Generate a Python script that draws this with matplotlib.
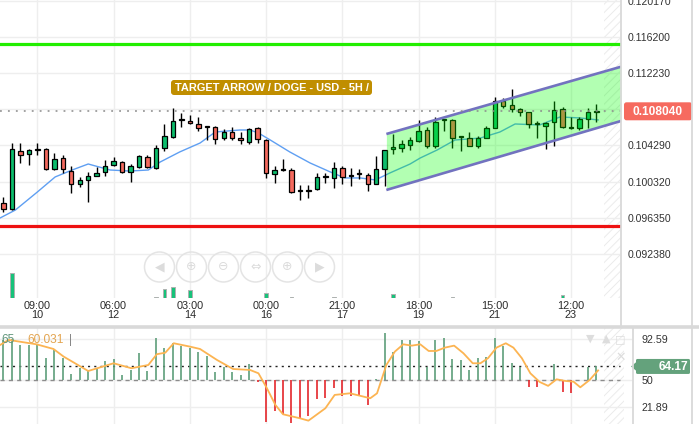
import matplotlib
matplotlib.use("Agg")
import matplotlib.pyplot as plt
from matplotlib.patches import FancyBboxPatch, Circle, Polygon
from matplotlib.lines import Line2D
from matplotlib.transforms import IdentityTransform

# ---- data ----
opens = [0.09798, 0.09732, 0.10369, 0.10336, 0.10380, 0.10390, 0.10171, 0.10292, 0.10149, 0.10007,
         0.10051, 0.10095, 0.10138, 0.10215, 0.10248, 0.10138, 0.10193, 0.10303, 0.10182, 0.10401,
         0.10522, 0.10709, 0.10698, 0.10665, 0.10632, 0.10632, 0.10511, 0.10577, 0.10511, 0.10467,
         0.10621, 0.10489, 0.10117, 0.10160, 0.10160, 0.09930, 0.09935, 0.09952, 0.10084, 0.10073,
         0.10182, 0.10095, 0.10117, 0.10106, 0.10007, 0.10171, 0.10390, 0.10401, 0.10434, 0.10478,
         0.10599, 0.10423, 0.10709, 0.10709, 0.10522, 0.10511, 0.10423, 0.10511, 0.10621, 0.10917,
         0.10873, 0.10829, 0.10796, 0.10665, 0.10643, 0.10687, 0.10829, 0.10621, 0.10621, 0.10720,
         0.10800]
highs = [0.09864, 0.10456, 0.10456, 0.10390, 0.10456, 0.10401, 0.10347, 0.10325, 0.10204, 0.10084,
         0.10138, 0.10193, 0.10270, 0.10303, 0.10259, 0.10226, 0.10325, 0.10325, 0.10434, 0.10665,
         0.10840, 0.10785, 0.10763, 0.10742, 0.10640, 0.10640, 0.10610, 0.10632, 0.10577, 0.10621,
         0.10630, 0.10495, 0.10204, 0.10281, 0.10182, 0.09996, 0.09996, 0.10127, 0.10127, 0.10248,
         0.10204, 0.10182, 0.10171, 0.10127, 0.10314, 0.10380, 0.10555, 0.10489, 0.10522, 0.10709,
         0.10632, 0.10742, 0.10720, 0.10720, 0.10533, 0.10577, 0.10533, 0.10643, 0.10961, 0.10950,
         0.11049, 0.10840, 0.10800, 0.10698, 0.10687, 0.10917, 0.10851, 0.10742, 0.10742, 0.10840,
         0.10884]
lows = [0.09699, 0.09721, 0.10237, 0.10215, 0.10325, 0.10160, 0.10160, 0.10127, 0.09908, 0.09974,
        0.09809, 0.10095, 0.10095, 0.10204, 0.10127, 0.10029, 0.10182, 0.10182, 0.10171, 0.10369,
        0.10511, 0.10632, 0.10665, 0.10588, 0.10489, 0.10445, 0.10489, 0.10489, 0.10445, 0.10445,
        0.10456, 0.10073, 0.10018, 0.10149, 0.09908, 0.09831, 0.09853, 0.09941, 0.10018, 0.09963,
        0.10007, 0.09985, 0.10062, 0.09930, 0.10007, 0.09985, 0.10336, 0.10358, 0.10380, 0.10467,
        0.10401, 0.10401, 0.10588, 0.10401, 0.10369, 0.10423, 0.10401, 0.10511, 0.10621, 0.10840,
        0.10796, 0.10752, 0.10621, 0.10511, 0.10390, 0.10423, 0.10621, 0.10610, 0.10599, 0.10621,
        0.10687]
closes = [0.09732, 0.10390, 0.10325, 0.10380, 0.10390, 0.10171, 0.10281, 0.10171, 0.10007, 0.10051,
          0.10095, 0.10127, 0.10204, 0.10259, 0.10138, 0.10204, 0.10314, 0.10193, 0.10401, 0.10533,
          0.10698, 0.10714, 0.10676, 0.10621, 0.10627, 0.10500, 0.10577, 0.10511, 0.10489, 0.10610,
          0.10500, 0.10127, 0.10160, 0.10165, 0.09919, 0.09935, 0.09930, 0.10084, 0.10089, 0.10182,
          0.10084, 0.10100, 0.10112, 0.10007, 0.10171, 0.10380, 0.10412, 0.10445, 0.10489, 0.10588,
          0.10423, 0.10687, 0.10704, 0.10511, 0.10517, 0.10423, 0.10511, 0.10621, 0.10917, 0.10862,
          0.10829, 0.10796, 0.10665, 0.10660, 0.10676, 0.10818, 0.10632, 0.10616, 0.10720, 0.10796,
          0.10804]
volume = [0, 25, 0, 0, 0, 0, 0, 0, 0, 0, 0, 0, 0, 0, 0, 0, 0, 0, 1, 9,
          11, 0, 8, 0, 0, 0, 0, 0, 0, 0, 0, 5, 0, 0, 1, 0, 0, 0, 0, 1,
          0, 0, 0, 0, 0, 0, 4, 0, 0.5, 0, 0, 0, 0, 1.5, 0, 0, 0, 0, 0, 0,
          0, 0, 0, 0, 0.5, 0, 3, 0, 0, 0, 0]

# moving average over price (read at points)
ma_idx = [-0.4, 1.4, 4.0, 6.1, 8.1, 10.0, 12.6, 14.9, 17.1, 18.5, 20.8, 23.2, 25.0, 27.9, 29.1,
          30.1, 31.5, 33.8, 36.2, 38.6, 40.3, 42.1, 43.9, 45.6, 48.0, 49.2, 51.2, 53.3, 56.3,
          58.6, 60.4, 63.3, 65.7, 68.1, 70.2]
ma_val = [0.09634, 0.09721, 0.09919, 0.10084, 0.10160, 0.10226, 0.10160, 0.10149, 0.10160, 0.10248,
          0.10358, 0.10456, 0.10577, 0.10599, 0.10599, 0.10566, 0.10489, 0.10358, 0.10237, 0.10138,
          0.10073, 0.10073, 0.10051, 0.10127, 0.10226, 0.10292, 0.10380, 0.10489, 0.10511, 0.10577,
          0.10665, 0.10654, 0.10742, 0.10731, 0.10709]

chan_idx = [45.2, 72.9]
chan_upper = [0.10555, 0.11293]
chan_lower = [0.09941, 0.10698]

resistance = 0.11540
support = 0.09549
last_price = 0.108040

price_ticks = [0.092380, 0.096350, 0.100320, 0.104290, 0.108260, 0.112230, 0.116200, 0.120170]
time_pos = [4, 13, 22, 31, 40, 49, 58, 67]
time_labels = ["09:00\n10", "06:00\n12", "03:00\n14", "00:00\n16",
               "21:00\n17", "18:00\n19", "15:00\n21", "12:00\n23"]

# oscillator panel
osc = [92, 93, 87, 87, 86.7, 72.8, 81.5, 72.8, 56, 62.3, 60.5, 62.3, 70, 72, 55.2, 60.5, 78, 59.4,
       94.4, 84, 88.5, 86, 83.2, 79.7, 75.5, 58, 64, 58, 55, 66.5, 47.5, 6.3, 17.5, 14, 4.5, 9.8,
       12.6, 30, 30.8, 42, 33.5, 33.5, 33.5, 23.8, 50.5, 99, 79.7, 92, 92, 91, 64, 92, 94.4, 72, 71,
       60.5, 73.4, 74.4, 94.4, 86, 67.5, 64, 43, 43, 49.5, 66.5, 37.8, 36, 50, 64, 64.17]
osc_ma_idx = [-0.4, 0.6, 3.9, 5.9, 7.1, 10.0, 13.0, 15.1, 17.1, 18.1, 19.1, 20.1, 22.0, 23.2, 25.2,
              27.1, 29.1, 30.1, 31.1, 32.1, 33.0, 35.0, 36.0, 38.0, 39.1, 40.9, 43.3, 44.1, 45.2,
              46.2, 47.2, 48.2, 49.2, 50.2, 51.1, 52.1, 53.2, 54.3, 55.4, 56.3, 57.2, 58.2, 59.3,
              60.2, 61.2, 62.2, 63.3, 64.3, 65.3, 66.3, 67.3, 68.1, 69.2, 70.2]
osc_ma_val = [86.7, 92, 87.4, 82.5, 74.5, 59.4, 67.5, 62.3, 65.7, 77, 78.6, 88.5, 85, 82.5, 71,
              61.5, 60.5, 57, 41.3, 23.8, 14, 9.8, 7.3, 20.3, 34.3, 36, 30.8, 36, 65.7,
              79.7, 87.4, 86, 87.4, 80.4, 80.4, 83.9, 86, 78, 67.5, 67.5, 72.8, 83.9, 88.5,
              83.9, 72.8, 57, 47.9, 43.8, 50.7, 49, 48.2, 42.3, 50, 60.0]
osc_ticks = [21.89, 50, 92.59]

# ---- layout ----
W, H = 699, 424
plt.rcParams['font.family'] = ['Liberation Sans', 'DejaVu Sans']
plt.rcParams['hatch.linewidth'] = 0.7
fig = plt.figure(figsize=(W / 100, H / 100), dpi=100)
PX = IdentityTransform()


def rect(x0, y0, x1, y1):
    return [x0 / W, 1 - y1 / H, (x1 - x0) / W, (y1 - y0) / H]


GREEN = '#0cbd6c'
RED = '#f46a5e'
GRID = '#eeeeee'
HATCH = '#ebebeb'
n = len(closes)
xs = list(range(n))

ax = fig.add_axes(rect(0, 0, 621, 298))
# volume sits at the bottom of the price pane (twin created first: twinx resets tick side)
axv = ax.twinx()
ax.set_xlim(-0.413, 72.9)
ax.set_ylim(0.08756, 0.12025)
for s in ax.spines.values():
    s.set_visible(False)
ax.set_yticks(price_ticks)
ax.set_yticklabels(["" if abs(t - 0.10826) < 1e-6 else "%.6f" % t for t in price_ticks])
ax.yaxis.tick_right()
ax.yaxis.set_label_position('right')
ax.tick_params(axis='y', length=0, pad=5, labelsize=7.6, labelcolor='#333333',
               labelleft=False, labelright=True)
ax.set_xticks(time_pos)
ax.set_xticklabels(time_labels, linespacing=0.95)
ax.tick_params(axis='x', length=0, pad=2, labelsize=7.8, labelcolor='#2a2a2a')
ax.grid(True, color=GRID, lw=1)
ax.set_axisbelow(True)

# future area hatch
ax.axvspan(70.9, 72.9, facecolor='none', edgecolor=HATCH, hatch='////', lw=0, zorder=0.5)

ax.axhline(resistance, color='#22ee00', lw=2.3, zorder=3)
ax.axhline(support, color='#ee1111', lw=2.3, zorder=3)

ax.plot(ma_idx, ma_val, color='#5f9ff2', lw=1, zorder=2)

# candles
for i in xs:
    o, h, l, c = opens[i], highs[i], lows[i], closes[i]
    col = GREEN if c >= o else RED
    ax.vlines(i, l, h, color='black', lw=1, zorder=3)
    body = max(abs(c - o), 0.00012)
    ax.bar(i, body, bottom=min(o, c), width=0.52, color=col, edgecolor='black', lw=0.9, zorder=4)

# trend channel (drawn over candles, translucent)
ax.fill_between(chan_idx, chan_lower, chan_upper, color='#00ff00', alpha=0.3, lw=0, zorder=5)
ax.plot(chan_idx, chan_upper, color='#7272bf', lw=1.9, zorder=6, solid_capstyle='butt')
ax.plot(chan_idx, chan_lower, color='#7272bf', lw=1.9, zorder=6, solid_capstyle='butt')

ax.axhline(last_price, color='#8a8a8a', lw=1.1, ls=(0, (1.2, 4)), zorder=6)

axv.set_ylim(0, 298)
axv.set_yticks([])
for s in axv.spines.values():
    s.set_visible(False)
axv.bar(xs, volume, width=0.45, color='#17c27a', edgecolor='#b0b0b0', lw=0.7)

# title badge
fig.patches.append(FancyBboxPatch((171, H - 95), 201, 15, boxstyle="round,pad=0,rounding_size=3",
                                  transform=PX, facecolor='#c08e00', edgecolor='none', figure=fig))
fig.text(271.5, H - 87.8, "TARGET ARROW / DOGE - USD - 5H /", transform=PX, ha='center',
         va='center', color='white', fontsize=7.9, fontweight='bold')

# navigation buttons
for k, g in enumerate(['◀', '⊕', '⊖', '⇔', '⊕', '▶']):
    cx = 159.5 + k * 32
    fig.patches.append(Circle((cx, H - 267), 15, transform=PX, facecolor='none',
                              edgecolor='#e4e4e4', lw=1.1, figure=fig))
    fig.text(cx, H - 267, g, transform=PX, ha='center', va='center', color='#dcdcdc', fontsize=9,
             family='DejaVu Sans')

# last price tag
fig.canvas.draw()
yp = ax.transData.transform((0, last_price))[1]
fig.patches.append(FancyBboxPatch((624, yp - 9), 68, 18, boxstyle="round,pad=0,rounding_size=2.5",
                                  transform=PX, facecolor='#f66a5f', edgecolor='none', figure=fig))
fig.text(658, yp - 0.5, "%.6f" % last_price, transform=PX, ha='center', va='center', color='white',
         fontsize=8.6, fontweight='bold')

# ---- oscillator pane ----
ax2 = fig.add_axes(rect(0, 328, 633, 424))
ax2.set_xlim(-0.413, 74.32)
ax2.set_ylim(3.8, 104.5)
for s in ax2.spines.values():
    s.set_visible(False)
ax2.set_xticks(time_pos)
ax2.set_xticklabels([])
ax2.tick_params(axis='x', length=0)
ax2.set_yticks(osc_ticks)
ax2.set_yticklabels(["%g" % t for t in osc_ticks])
ax2.yaxis.tick_right()
ax2.tick_params(axis='y', length=0, pad=6, labelsize=7.7, labelcolor='#333333')
ax2.grid(True, color=GRID, lw=1)
ax2.set_axisbelow(True)
ax2.axvspan(70.9, 73.2, facecolor='none', edgecolor=HATCH, hatch='////', lw=0, zorder=0.5)

ax2.axhline(50, xmax=73.2 / 74.733, color='#8c8c8c', lw=1, ls=(0, (3, 3)), zorder=2)
ax2.axhline(osc[-1], xmax=73.2 / 74.733, color='#222222', lw=1, ls=(0, (1.5, 3)), zorder=2)
for i in xs:
    v = osc[i]
    ax2.vlines(i, 50, v, color='#5e9e7a' if v >= 50 else '#e4262b', lw=1.2, zorder=3)
ax2.plot(osc_ma_idx, osc_ma_val, color='#fcb452', lw=1.3, zorder=4)

fig.text(1, H - 340, "65", transform=PX, ha='left', va='center', color='#5f957a', fontsize=8.6)
fig.text(27, H - 340, "60.031", transform=PX, ha='left', va='center', color='#e3a44f', fontsize=8.6)
fig.text(70, H - 340, "|", transform=PX, ha='center', va='center', color='#888888', fontsize=8.6)
for gx, g in [(590, '▼'), (606, '▲'), (620, '□')]:
    fig.text(gx, H - 339, g, transform=PX, ha='center', va='center', color='#dddddd', fontsize=8,
             family='DejaVu Sans')
fig.text(621, H - 357, '✕', transform=PX, ha='center', va='center', color='#dddddd', fontsize=9,
         family='DejaVu Sans')

yo = ax2.transData.transform((0, osc[-1]))[1]
fig.patches.append(FancyBboxPatch((636, yo - 7.5), 54, 15, boxstyle="round,pad=0,rounding_size=1.5",
                                  transform=PX, facecolor='#64a27c', edgecolor='none', figure=fig))
fig.patches.append(Polygon([(631, yo), (637, yo - 5), (637, yo + 5)], transform=PX,
                           facecolor='#64a27c', edgecolor='none', figure=fig))
fig.text(688, yo - 0.5, "%.2f" % osc[-1], transform=PX, ha='right', va='center', color='white',
         fontsize=8.6, fontweight='bold')

# pane frames
for (x0, y0, x1, y1, lw) in [(0, 326.5, W, 326.5, 2.6), (621, 0, 621, 325, 1.3),
                             (692, 0, 692, 325, 1.3), (633, 328, 633, H, 1.3),
                             (692, 328, 692, H, 1.3)]:
    fig.add_artist(Line2D([x0, x1], [H - y0, H - y1], transform=PX, color='#d9d9d9', lw=lw))

fig.savefig("out.png", dpi=100)
